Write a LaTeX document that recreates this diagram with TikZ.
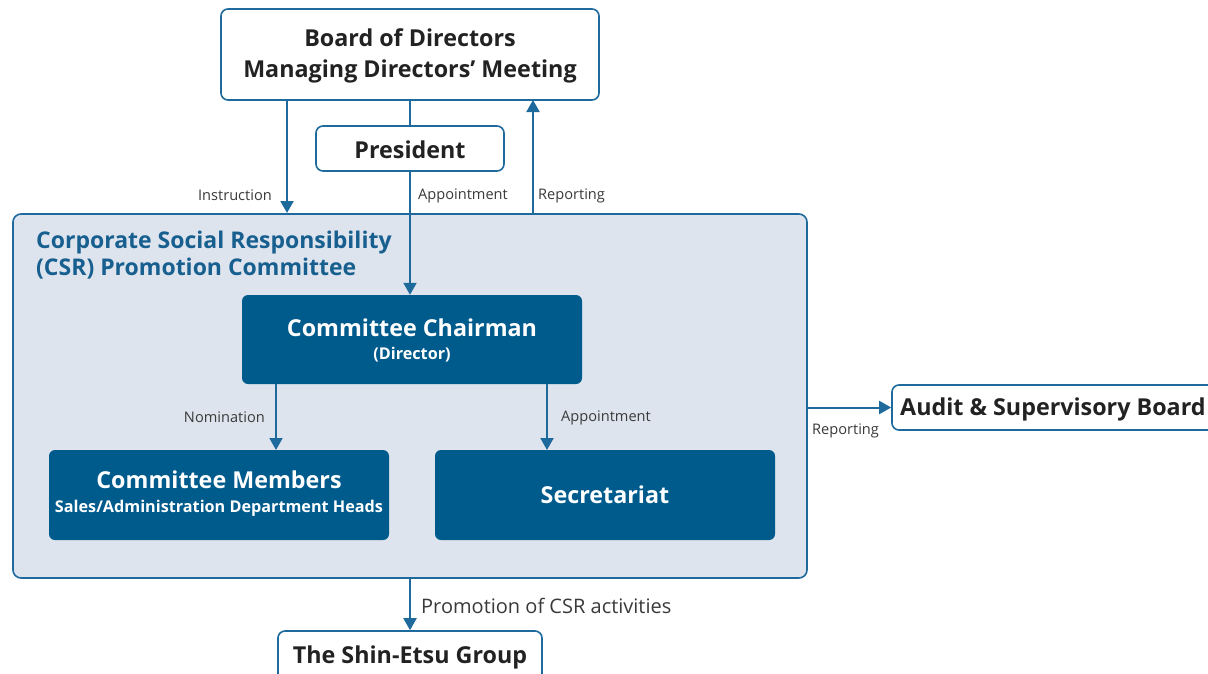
\documentclass[tikz,border=0pt]{standalone}
\usepackage{fontspec}
\setmainfont{Open Sans}
\usetikzlibrary{arrows.meta}
\definecolor{lineblue}{HTML}{1F6A9C}
\definecolor{darkblue}{HTML}{005B8D}
\definecolor{panel}{HTML}{DEE4EE}
\definecolor{titleblue}{HTML}{175F8F}
\definecolor{txt}{HTML}{222222}
\definecolor{lbl}{HTML}{3A3A3A}
\tikzset{
  whitebox/.style={draw=lineblue, line width=1.6pt, fill=white, rounded corners=7pt, inner sep=0pt},
  darkbox/.style={fill=darkblue, rounded corners=6pt, inner sep=0pt},
  conn/.style={draw=lineblue, line width=2pt},
  arr/.style={conn, -{Triangle[width=13pt,length=12pt]}},
  lab/.style={text=lbl, font=\fontsize{14.6}{16}\selectfont, inner sep=0pt},
  bigfont/.style={font=\bfseries\fontsize{23.3}{31}\selectfont},
  smallfont/.style={font=\bfseries\fontsize{16.2}{18}\selectfont},
}
\begin{document}
\begin{tikzpicture}[x=1pt,y=-1pt]
\clip (0,0) rectangle (1208,673);
\useasboundingbox (0,0) rectangle (1208,673);
\fill[white] (0,0) rectangle (1208,673);

% CSR panel
\draw[draw=lineblue, line width=1.6pt, fill=panel, rounded corners=8pt] (13,214) rectangle (807,578);
\node[anchor=west, text=titleblue, font=\bfseries\fontsize{23}{27}\selectfont, align=left, inner sep=0pt] (csrtitle) at (36,255.5) {Corporate Social Responsibility\\(CSR) Promotion Committee};

% Boxes
\node[whitebox, minimum width=378pt, minimum height=91pt] (board) at (410,54.5) {};
\node[text=txt, bigfont, align=center, inner sep=0pt] (boardt) at (410,56) {Board of Directors\\Managing Directors’ Meeting};
\node[whitebox, minimum width=188pt, minimum height=45pt] (pres) at (410,148.5) {};
\node[text=txt, bigfont, inner sep=0pt] (prest) at (410,149.5) {President};
\node[darkbox, minimum width=340pt, minimum height=89pt] (chair) at (412,339.5) {};
\node[text=white, bigfont, inner sep=0pt] (chairt) at (412,327.5) {Committee Chairman};
\node[text=white, smallfont, inner sep=0pt] (chairs) at (412,354.5) {(Director)};
\node[darkbox, minimum width=340pt, minimum height=90pt] (memb) at (219,495) {};
\node[text=white, bigfont, inner sep=0pt] (membt) at (219,479.5) {Committee Members};
\node[text=white, smallfont, inner sep=0pt] (membs) at (219,508.5) {Sales/Administration Department Heads};
\node[darkbox, minimum width=340pt, minimum height=90pt] (secr) at (605,495) {};
\node[text=white, bigfont, inner sep=0pt] (secrt) at (605,495) {Secretariat};
\node[whitebox, minimum width=323pt, minimum height=45pt] (audit) at (1053.5,407.5) {};
\node[anchor=west, text=txt, bigfont, inner sep=0pt] (auditt) at (900,409.5) {Audit \& Supervisory Board};
\node[whitebox, minimum width=264pt, minimum height=56pt] (group) at (410,659) {};
\node[text=txt, bigfont, inner sep=0pt] (groupt) at (410,657) {The Shin-Etsu Group};

% Connectors
\draw[conn] (board.south) -- (pres.north);
\draw[arr] (pres.south) -- (chair.north -| pres.south);
\coordinate (instrTop) at (287,100);
\coordinate (instrBot) at (287,213);
\draw[arr] (instrTop) -- (instrBot);
\coordinate (repBot) at (533,214);
\coordinate (repTop) at (533,100);
\draw[arr] (repBot) -- (repTop);
\coordinate (nomTop) at (276,384);
\coordinate (nomBot) at (276,450);
\draw[arr] (nomTop) -- (nomBot);
\coordinate (appTop) at (547,384);
\coordinate (appBot) at (547,450);
\draw[arr] (appTop) -- (appBot);
\coordinate (audL) at (807,407.5);
\draw[arr] (audL) -- (audit.west);
\coordinate (promTop) at (410,578);
\draw[arr] (promTop) -- (group.north);

% Labels
\node[lab, anchor=east] (linstr) at (272,195.5) {Instruction};
\node[lab, anchor=west] (lapp1) at (418,195.5) {Appointment};
\node[lab, anchor=west] (lrep1) at (538,195.5) {Reporting};
\node[lab, anchor=east] (lnom) at (265,417.5) {Nomination};
\node[lab, anchor=west] (lapp2) at (561,417.5) {Appointment};
\node[lab, anchor=west] (lrep2) at (812,430.5) {Reporting};
\node[lab, anchor=west, font=\fontsize{20}{22}\selectfont] (lprom) at (421,606) {Promotion of CSR activities};
\end{tikzpicture}
\end{document}
